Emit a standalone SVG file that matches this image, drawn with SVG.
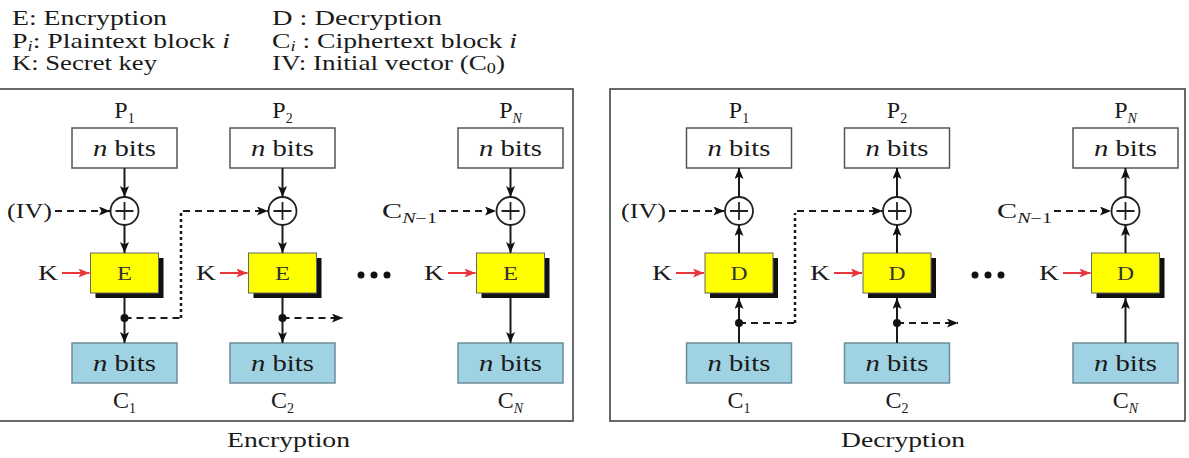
<svg xmlns="http://www.w3.org/2000/svg" width="1189" height="458" viewBox="0 0 1189 458">
<defs>
<style>
text{font-family:"Liberation Serif","Times New Roman",serif;fill:#1a1a1a;}
.leg{font-size:21px;}
.lab{font-size:24px;}
.nb{font-size:23px;}
.op{font-size:18px;fill:#333;}
.key{font-size:21px;}
.cap{font-size:21px;}
.sub{font-size:14px;}
.it{font-style:italic;}
.panel{fill:none;stroke:#444;stroke-width:1.6;}
.wbox{fill:#fff;stroke:#555;stroke-width:1.5;}
.bbox{fill:#9fd3e3;stroke:#6d8d98;stroke-width:1.5;}
.ybox{fill:#ffff00;stroke:#666;stroke-width:1;}
.shadow{fill:#111;}
.xor{fill:#fff;stroke:#222;stroke-width:1.8;}
.plus{stroke:#222;stroke-width:1.8;fill:none;}
.solid{stroke:#1a1a1a;stroke-width:2;fill:none;}
.dash{stroke:#1a1a1a;stroke-width:2;fill:none;stroke-dasharray:7 5;}
.dot{stroke:#1a1a1a;stroke-width:2.5;fill:none;stroke-dasharray:3 3;}
.red{stroke:#e8363c;stroke-width:2;fill:none;}
.jn{fill:#111;}
</style>
<marker id="ah" markerWidth="11" markerHeight="9" refX="11" refY="4.5" orient="auto" markerUnits="userSpaceOnUse"><path d="M0,0 L11,4.5 L0,9 L2.5,4.5 z" fill="#111"/></marker>
<marker id="ahr" markerWidth="11" markerHeight="9" refX="11" refY="4.5" orient="auto" markerUnits="userSpaceOnUse"><path d="M0,0 L11,4.5 L0,9 L2.5,4.5 z" fill="#e8363c"/></marker>
</defs>
<rect width="1189" height="458" fill="#fff"/>

<g id="legend">
<text class="leg" x="12" y="25" textLength="155" lengthAdjust="spacingAndGlyphs">E: Encryption</text>
<text class="leg" x="12" y="48" textLength="218" lengthAdjust="spacingAndGlyphs">P<tspan class="sub it" dy="3">i</tspan><tspan dy="-3">: Plaintext block </tspan><tspan class="it">i</tspan></text>
<text class="leg" x="12" y="70" textLength="145" lengthAdjust="spacingAndGlyphs">K: Secret key</text>
<text class="leg" x="272" y="25" textLength="170" lengthAdjust="spacingAndGlyphs">D : Decryption</text>
<text class="leg" x="272" y="48" textLength="245" lengthAdjust="spacingAndGlyphs">C<tspan class="sub it" dy="3">i</tspan><tspan dy="-3"> : Ciphertext block </tspan><tspan class="it">i</tspan></text>
<text class="leg" x="272" y="70" textLength="233" lengthAdjust="spacingAndGlyphs">IV: Initial vector (C<tspan class="sub" dy="3">0</tspan><tspan dy="-3">)</tspan></text>
</g>

<g id="panel-encryption">
<rect class="panel" x="-3" y="89" width="576" height="332"/>
<text class="cap" x="288.5" y="447" text-anchor="middle" textLength="123" lengthAdjust="spacingAndGlyphs">Encryption</text>
</g>
<g id="panel-decryption">
<rect class="panel" x="610" y="89" width="575" height="332"/>
<text class="cap" x="903" y="447" text-anchor="middle" textLength="124" lengthAdjust="spacingAndGlyphs">Decryption</text>
</g>

<!-- Encryption column 1 -->
<g id="enc-p1">
<text class="lab" x="124.5" y="118" text-anchor="middle">P<tspan class="sub" dy="5">1</tspan></text>
<rect class="wbox" x="72" y="128" width="105" height="40"/>
<text class="nb" x="124.5" y="156" text-anchor="middle" textLength="63" lengthAdjust="spacingAndGlyphs"><tspan class="it">n</tspan> bits</text>
</g>
<g id="enc-xor1"><circle class="xor" cx="124.5" cy="211" r="14"/><path class="plus" d="M115.5 211H133.5M124.5 202V220"/></g>
<g id="enc-e1">
<rect class="shadow" x="95.5" y="258" width="68" height="40"/>
<rect class="ybox" x="90.5" y="253" width="68" height="40"/>
<text class="op" x="124.5" y="280" text-anchor="middle" textLength="15" lengthAdjust="spacingAndGlyphs">E</text>
</g>
<g id="enc-c1">
<rect class="bbox" x="72" y="343" width="105" height="40"/>
<text class="nb" x="124.5" y="371" text-anchor="middle" textLength="63" lengthAdjust="spacingAndGlyphs"><tspan class="it">n</tspan> bits</text>
<text class="lab" x="124.5" y="408" text-anchor="middle">C<tspan class="sub" dy="5">1</tspan></text>
</g>
<g id="enc-iv"><text class="key" x="7" y="218" textLength="45" lengthAdjust="spacingAndGlyphs">(IV)</text></g>
<g id="enc-k1"><text class="key" x="38" y="280" textLength="20" lengthAdjust="spacingAndGlyphs">K</text></g>

<!-- Encryption column 2 -->
<g id="enc-p2">
<text class="lab" x="282.5" y="118" text-anchor="middle">P<tspan class="sub" dy="5">2</tspan></text>
<rect class="wbox" x="230" y="128" width="105" height="40"/>
<text class="nb" x="282.5" y="156" text-anchor="middle" textLength="63" lengthAdjust="spacingAndGlyphs"><tspan class="it">n</tspan> bits</text>
</g>
<g id="enc-xor2"><circle class="xor" cx="282.5" cy="211" r="14"/><path class="plus" d="M273.5 211H291.5M282.5 202V220"/></g>
<g id="enc-e2">
<rect class="shadow" x="253.5" y="258" width="68" height="40"/>
<rect class="ybox" x="248.5" y="253" width="68" height="40"/>
<text class="op" x="282.5" y="280" text-anchor="middle" textLength="15" lengthAdjust="spacingAndGlyphs">E</text>
</g>
<g id="enc-c2">
<rect class="bbox" x="230" y="343" width="105" height="40"/>
<text class="nb" x="282.5" y="371" text-anchor="middle" textLength="63" lengthAdjust="spacingAndGlyphs"><tspan class="it">n</tspan> bits</text>
<text class="lab" x="282.5" y="408" text-anchor="middle">C<tspan class="sub" dy="5">2</tspan></text>
</g>
<g id="enc-k2"><text class="key" x="196" y="280" textLength="20" lengthAdjust="spacingAndGlyphs">K</text></g>

<g id="enc-ellipsis"><circle class="jn" cx="361" cy="275" r="3.5"/><circle class="jn" cx="374" cy="275" r="3.5"/><circle class="jn" cx="387" cy="275" r="3.5"/></g>

<!-- Encryption column N -->
<g id="enc-pn">
<text class="lab" x="510.5" y="118" text-anchor="middle">P<tspan class="sub it" dy="5">N</tspan></text>
<rect class="wbox" x="458" y="128" width="105" height="40"/>
<text class="nb" x="510.5" y="156" text-anchor="middle" textLength="63" lengthAdjust="spacingAndGlyphs"><tspan class="it">n</tspan> bits</text>
</g>
<g id="enc-xorn"><circle class="xor" cx="510.5" cy="211" r="14"/><path class="plus" d="M501.5 211H519.5M510.5 202V220"/></g>
<g id="enc-en">
<rect class="shadow" x="481.5" y="258" width="68" height="40"/>
<rect class="ybox" x="476.5" y="253" width="68" height="40"/>
<text class="op" x="510.5" y="280" text-anchor="middle" textLength="15" lengthAdjust="spacingAndGlyphs">E</text>
</g>
<g id="enc-cn">
<rect class="bbox" x="458" y="343" width="105" height="40"/>
<text class="nb" x="510.5" y="371" text-anchor="middle" textLength="63" lengthAdjust="spacingAndGlyphs"><tspan class="it">n</tspan> bits</text>
<text class="lab" x="510.5" y="408" text-anchor="middle">C<tspan class="sub it" dy="5">N</tspan></text>
</g>
<g id="enc-cn1"><text class="key" x="382" y="218" textLength="55" lengthAdjust="spacingAndGlyphs">C<tspan class="sub" dy="5"><tspan class="it">N</tspan>−1</tspan></text></g>
<g id="enc-kn"><text class="key" x="424" y="280" textLength="20" lengthAdjust="spacingAndGlyphs">K</text></g>

<!-- Decryption column 1 -->
<g id="dec-p1">
<text class="lab" x="739" y="118" text-anchor="middle">P<tspan class="sub" dy="5">1</tspan></text>
<rect class="wbox" x="686.5" y="128" width="105" height="40"/>
<text class="nb" x="739" y="156" text-anchor="middle" textLength="63" lengthAdjust="spacingAndGlyphs"><tspan class="it">n</tspan> bits</text>
</g>
<g id="dec-xor1"><circle class="xor" cx="739" cy="211" r="14"/><path class="plus" d="M730 211H748M739 202V220"/></g>
<g id="dec-d1">
<rect class="shadow" x="710" y="258" width="68" height="40"/>
<rect class="ybox" x="705" y="253" width="68" height="40"/>
<text class="op" x="739" y="280" text-anchor="middle" textLength="17" lengthAdjust="spacingAndGlyphs">D</text>
</g>
<g id="dec-c1">
<rect class="bbox" x="686.5" y="343" width="105" height="40"/>
<text class="nb" x="739" y="371" text-anchor="middle" textLength="63" lengthAdjust="spacingAndGlyphs"><tspan class="it">n</tspan> bits</text>
<text class="lab" x="739" y="408" text-anchor="middle">C<tspan class="sub" dy="5">1</tspan></text>
</g>
<g id="dec-iv"><text class="key" x="621" y="218" textLength="45" lengthAdjust="spacingAndGlyphs">(IV)</text></g>
<g id="dec-k1"><text class="key" x="652" y="280" textLength="20" lengthAdjust="spacingAndGlyphs">K</text></g>

<!-- Decryption column 2 -->
<g id="dec-p2">
<text class="lab" x="897" y="118" text-anchor="middle">P<tspan class="sub" dy="5">2</tspan></text>
<rect class="wbox" x="844.5" y="128" width="105" height="40"/>
<text class="nb" x="897" y="156" text-anchor="middle" textLength="63" lengthAdjust="spacingAndGlyphs"><tspan class="it">n</tspan> bits</text>
</g>
<g id="dec-xor2"><circle class="xor" cx="897" cy="211" r="14"/><path class="plus" d="M888 211H906M897 202V220"/></g>
<g id="dec-d2">
<rect class="shadow" x="868" y="258" width="68" height="40"/>
<rect class="ybox" x="863" y="253" width="68" height="40"/>
<text class="op" x="897" y="280" text-anchor="middle" textLength="17" lengthAdjust="spacingAndGlyphs">D</text>
</g>
<g id="dec-c2">
<rect class="bbox" x="844.5" y="343" width="105" height="40"/>
<text class="nb" x="897" y="371" text-anchor="middle" textLength="63" lengthAdjust="spacingAndGlyphs"><tspan class="it">n</tspan> bits</text>
<text class="lab" x="897" y="408" text-anchor="middle">C<tspan class="sub" dy="5">2</tspan></text>
</g>
<g id="dec-k2"><text class="key" x="810" y="280" textLength="20" lengthAdjust="spacingAndGlyphs">K</text></g>

<g id="dec-ellipsis"><circle class="jn" cx="975" cy="275" r="3.5"/><circle class="jn" cx="988" cy="275" r="3.5"/><circle class="jn" cx="1001" cy="275" r="3.5"/></g>

<!-- Decryption column N -->
<g id="dec-pn">
<text class="lab" x="1125.5" y="118" text-anchor="middle">P<tspan class="sub it" dy="5">N</tspan></text>
<rect class="wbox" x="1073" y="128" width="105" height="40"/>
<text class="nb" x="1125.5" y="156" text-anchor="middle" textLength="63" lengthAdjust="spacingAndGlyphs"><tspan class="it">n</tspan> bits</text>
</g>
<g id="dec-xorn"><circle class="xor" cx="1125.5" cy="211" r="14"/><path class="plus" d="M1116.5 211H1134.5M1125.5 202V220"/></g>
<g id="dec-dn">
<rect class="shadow" x="1096.5" y="258" width="68" height="40"/>
<rect class="ybox" x="1091.5" y="253" width="68" height="40"/>
<text class="op" x="1125.5" y="280" text-anchor="middle" textLength="17" lengthAdjust="spacingAndGlyphs">D</text>
</g>
<g id="dec-cn">
<rect class="bbox" x="1073" y="343" width="105" height="40"/>
<text class="nb" x="1125.5" y="371" text-anchor="middle" textLength="63" lengthAdjust="spacingAndGlyphs"><tspan class="it">n</tspan> bits</text>
<text class="lab" x="1125.5" y="408" text-anchor="middle">C<tspan class="sub it" dy="5">N</tspan></text>
</g>
<g id="dec-cn1"><text class="key" x="997" y="218" textLength="55" lengthAdjust="spacingAndGlyphs">C<tspan class="sub" dy="5"><tspan class="it">N</tspan>−1</tspan></text></g>
<g id="dec-kn"><text class="key" x="1039" y="280" textLength="20" lengthAdjust="spacingAndGlyphs">K</text></g>

<g id="connectors">
<path class="solid" d="M124.5 168V197" marker-end="url(#ah)"/>
<path class="solid" d="M124.5 225V253" marker-end="url(#ah)"/>
<path class="solid" d="M124.5 298V343" marker-end="url(#ah)"/>
<path class="solid" d="M282.5 168V197" marker-end="url(#ah)"/>
<path class="solid" d="M282.5 225V253" marker-end="url(#ah)"/>
<path class="solid" d="M282.5 298V343" marker-end="url(#ah)"/>
<path class="solid" d="M510.5 168V197" marker-end="url(#ah)"/>
<path class="solid" d="M510.5 225V253" marker-end="url(#ah)"/>
<path class="solid" d="M510.5 298V343" marker-end="url(#ah)"/>
<path class="dash" d="M55 211H110" marker-end="url(#ah)"/>
<path class="dash" d="M124.5 318H181"/>
<path class="dot" d="M181 318V213"/>
<path class="dash" d="M183 211H268" marker-end="url(#ah)"/>
<path class="dash" d="M282.5 318H343" marker-end="url(#ah)"/>
<path class="dash" d="M439 211H496" marker-end="url(#ah)"/>
<circle class="jn" cx="124.5" cy="318" r="4"/>
<circle class="jn" cx="282.5" cy="318" r="4"/>
<path class="red" d="M62 273H89.5" marker-end="url(#ahr)"/>
<path class="red" d="M220 273H247.5" marker-end="url(#ahr)"/>
<path class="red" d="M448 273H475.5" marker-end="url(#ahr)"/>
<path class="solid" d="M739 343V298" marker-end="url(#ah)"/>
<path class="solid" d="M739 253V225" marker-end="url(#ah)"/>
<path class="solid" d="M739 197V168" marker-end="url(#ah)"/>
<path class="solid" d="M897 343V298" marker-end="url(#ah)"/>
<path class="solid" d="M897 253V225" marker-end="url(#ah)"/>
<path class="solid" d="M897 197V168" marker-end="url(#ah)"/>
<path class="solid" d="M1125.5 343V298" marker-end="url(#ah)"/>
<path class="solid" d="M1125.5 253V225" marker-end="url(#ah)"/>
<path class="solid" d="M1125.5 197V168" marker-end="url(#ah)"/>
<path class="dash" d="M669 211H724.5" marker-end="url(#ah)"/>
<path class="dash" d="M739 323H795"/>
<path class="dot" d="M795 323V213"/>
<path class="dash" d="M797 211H882.5" marker-end="url(#ah)"/>
<path class="dash" d="M897 323H958" marker-end="url(#ah)"/>
<path class="dash" d="M1054 211H1111" marker-end="url(#ah)"/>
<circle class="jn" cx="739" cy="323" r="4"/>
<circle class="jn" cx="897" cy="323" r="4"/>
<path class="red" d="M676 273H704" marker-end="url(#ahr)"/>
<path class="red" d="M834 273H862" marker-end="url(#ahr)"/>
<path class="red" d="M1063 273H1090.5" marker-end="url(#ahr)"/>
</g>
</svg>
